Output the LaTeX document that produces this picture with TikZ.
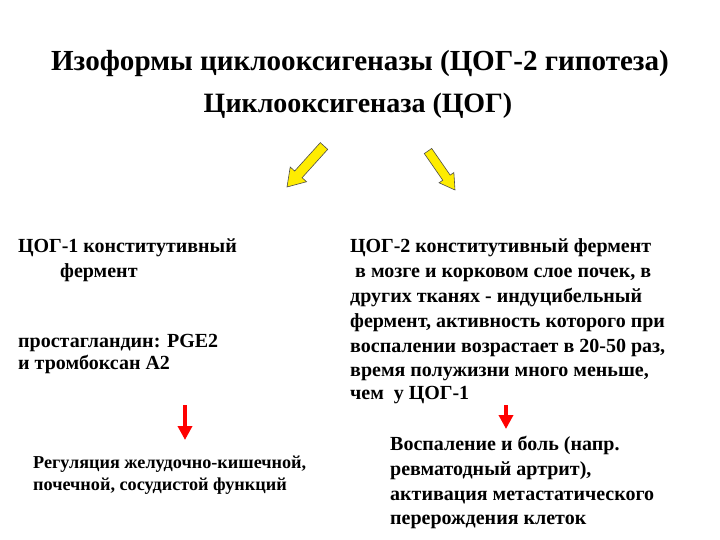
\documentclass[tikz,border=0pt]{standalone}
\usepackage{fontspec}
\setmainfont{Liberation Serif}
\usetikzlibrary{calc,arrows.meta}
\tikzset{
  title/.style={anchor=base, inner sep=0pt, font=\fontsize{29.1}{33}\selectfont\bfseries},
  sub/.style={anchor=base, inner sep=0pt, font=\fontsize{28}{32}\selectfont\bfseries},
  txt/.style={anchor=base west, inner sep=0pt, font=\fontsize{20}{23}\selectfont\bfseries},
  small/.style={anchor=base west, inner sep=0pt, font=\fontsize{18.2}{21}\selectfont\bfseries},
  yarrow/.style={fill=yellow!90!orange!60!yellow, draw=black!70, line width=0.6pt, line join=miter},
  rarrow/.style={draw=red, line width=3.5pt, -{Triangle[length=14pt,width=14pt]}}
}
\newcommand\blockarrow[5]{%
  \coordinate (hb) at ($(#2)!#5!(#1)$);
  \filldraw[yarrow] ($(#1)!#3!90:(#2)$) -- ($(hb)!#3!90:(#2)$) -- ($(hb)!#4!90:(#2)$) -- (#2)
    -- ($(hb)!#4!-90:(#2)$) -- ($(hb)!#3!-90:(#2)$) -- ($(#1)!#3!-90:(#2)$) -- cycle;}
\begin{document}
\begin{tikzpicture}[x=1pt,y=-1pt]
\useasboundingbox (0,0) rectangle (720,540);
\node[title] (t1) at (360,71) {Изоформы циклооксигеназы (ЦОГ-2 гипотеза)};
\node[sub] (t2) at (358,113) {Циклооксигеназа (ЦОГ)};
% yellow arrows
\coordinate (la1) at (324,146);
\coordinate (la2) at (287,187);
\coordinate (ra1) at (428,151);
\coordinate (ra2) at (455,190);
\blockarrow{la1}{la2}{5pt}{11pt}{17pt}
\blockarrow{ra1}{ra2}{4.5pt}{9pt}{15pt}
% left column
\node[txt] (l1) at (18,252) {ЦОГ-1 конститутивный};
\node[txt] (l2) at (60,277) {фермент};
\node[txt] (l3) at (18,347) {простагландин: PGE2};
\node[txt] (l4) at (18,369) {и тромбоксан А2};
% right column
\node[txt] (r1) at (350,252) {ЦОГ-2 конститутивный фермент};
\node[txt] (r2) at (350,277) {\ в мозге и корковом слое почек, в};
\node[txt] (r3) at (350,302) {других тканях - индуцибельный};
\node[txt] (r4) at (350,327) {фермент, активность которого при};
\node[txt] (r5) at (350,352) {воспалении возрастает в 20-50 раз,};
\node[txt] (r6) at (350,376) {время полужизни много меньше,};
\node[txt] (r7) at (350,399) {чем\ \ у ЦОГ-1};
% red arrows
\coordinate (lr1) at (185,405);
\coordinate (lr2) at (185,440);
\coordinate (rr1) at (506,405);
\coordinate (rr2) at (506,429);
\draw[rarrow] (lr1) -- (lr2);
\draw[rarrow] (rr1) -- (rr2);
% bottom left
\node[small] (b1) at (33,468) {Регуляция желудочно-кишечной,};
\node[small] (b2) at (33,490) {почечной, сосудистой функций};
% bottom right
\node[txt] (c1) at (390,450) {Воспаление и боль (напр.};
\node[txt] (c2) at (390,475) {ревматодный артрит),};
\node[txt] (c3) at (390,500) {активация метастатического};
\node[txt] (c4) at (390,524) {перерождения клеток};
\end{tikzpicture}
\end{document}
